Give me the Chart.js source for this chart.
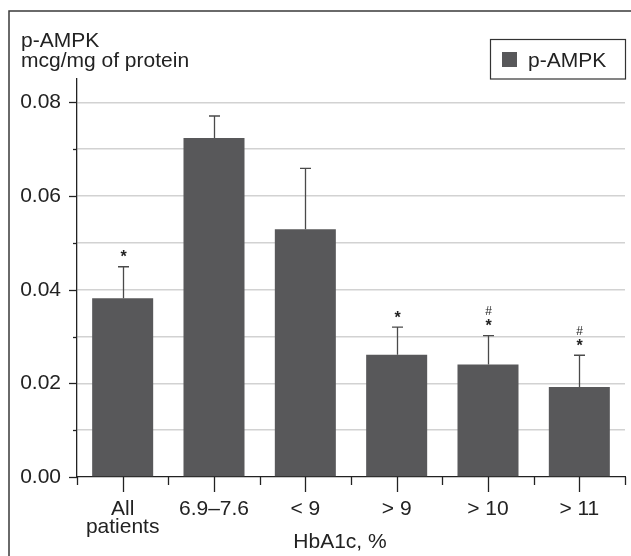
<!DOCTYPE html>
<html>
<head>
<meta charset="utf-8">
<title>p-AMPK by HbA1c</title>
<script src="https://cdn.jsdelivr.net/npm/chart.js@4.4.1/dist/chart.umd.min.js"></script>
<style>
  html, body { margin: 0; padding: 0; background: #fff; }
  #wrap { width: 631px; height: 556px; }
</style>
</head>
<body>
<div id="wrap"><canvas id="chart" width="631" height="556"></canvas></div>
<script>
// ---- data ----
const categories = [["All", "patients"], "6.9–7.6", "< 9", "> 9", "> 10", "> 11"];
const pAmpk = [0.0382, 0.0724, 0.0529, 0.0261, 0.0240, 0.0192];
const pAmpkSd = [0.0067, 0.0047, 0.0130, 0.0059, 0.0062, 0.0068];
const starMarks = [true, false, false, true, true, true];
const hashMarks = [false, false, false, false, true, true];
const yTicks = [0, 0.02, 0.04, 0.06, 0.08];

const FONT = "'Liberation Sans', Arial, Helvetica, sans-serif";
const TEXT = "#222";
const BAR = "#58585a";

function el(id) {
  return document.getElementById(id);
}

// frame, titles, legend, tick marks, error bars, significance marks
const extras = {
  id: "extras",
  afterDraw(chart) {
    const ctx = chart.ctx;
    const x = chart.scales.x;
    const y = chart.scales.y;
    const area = chart.chartArea;
    const ds = chart.data.datasets[0];

    ctx.save();

    // outer frame (top + left only visible)
    ctx.strokeStyle = "#3a3a3a";
    ctx.lineWidth = 1.5;
    ctx.beginPath();
    ctx.moveTo(9, 556);
    ctx.lineTo(9, 11);
    ctx.lineTo(631, 11);
    ctx.stroke();

    // y title, two lines, top left
    ctx.fillStyle = TEXT;
    ctx.font = "21px " + FONT;
    ctx.textAlign = "left";
    ctx.textBaseline = "alphabetic";
    ctx.fillText("p-AMPK", 21, 47);
    ctx.fillText("mcg/mg of protein", 21, 67);

    // x title
    ctx.textAlign = "center";
    ctx.fillText("HbA1c, %", 340, 548);

    // legend box
    ctx.strokeStyle = "#333";
    ctx.lineWidth = 1.2;
    ctx.strokeRect(490.5, 39.5, 135, 39.5);
    ctx.fillStyle = ds.backgroundColor;
    ctx.fillRect(502, 52, 15, 15);
    ctx.fillStyle = TEXT;
    ctx.textAlign = "left";
    ctx.fillText(ds.label, 528, 67);

    // y tick marks (major labelled, minor in between)
    ctx.strokeStyle = "#222";
    ctx.lineWidth = 1.3;
    for (let v = 0; v <= 0.08 + 1e-9; v += 0.01) {
      const py = Math.round(y.getPixelForValue(v)) + 0.5;
      const major = yTicks.some((t) => Math.abs(t - v) < 1e-9);
      ctx.beginPath();
      ctx.moveTo(area.left - (major ? 8 : 4), py);
      ctx.lineTo(area.left, py);
      ctx.stroke();
    }

    // x tick marks: short at category edges, long at centres
    const n = categories.length;
    const step = (area.right - area.left) / n;
    for (let i = 0; i <= n; i++) {
      const px = Math.round(area.left + i * step) + 0.5;
      ctx.beginPath();
      ctx.moveTo(px, area.bottom);
      ctx.lineTo(px, area.bottom + 8);
      ctx.stroke();
    }
    for (let i = 0; i < n; i++) {
      const px = Math.round(x.getPixelForValue(i)) + 0.5;
      ctx.beginPath();
      ctx.moveTo(px, area.bottom);
      ctx.lineTo(px, area.bottom + 15);
      ctx.stroke();
    }

    // error bars (upper only) and marks
    ctx.strokeStyle = "#4a4a4a";
    ctx.lineWidth = 1.3;
    pAmpk.forEach((val, i) => {
      const px = Math.round(x.getPixelForValue(i)) + 0.5;
      const yBar = y.getPixelForValue(val);
      const yTop = y.getPixelForValue(val + pAmpkSd[i]);
      ctx.beginPath();
      ctx.moveTo(px, yBar);
      ctx.lineTo(px, yTop);
      ctx.moveTo(px - 5.5, yTop);
      ctx.lineTo(px + 5.5, yTop);
      ctx.stroke();

      ctx.fillStyle = TEXT;
      ctx.textAlign = "center";
      ctx.textBaseline = "middle";
      if (starMarks[i]) {
        ctx.font = "bold 16px " + FONT;
        ctx.fillText("*", px, yTop - 9);
      }
      if (hashMarks[i]) {
        ctx.font = "12px " + FONT;
        ctx.fillText("#", px, yTop - 24);
      }
    });

    ctx.restore();
  },
};

new Chart(el("chart"), {
  type: "bar",
  data: {
    labels: categories,
    datasets: [
      {
        label: "p-AMPK",
        data: pAmpk,
        backgroundColor: BAR,
        borderWidth: 0,
        categoryPercentage: 1,
        barPercentage: 0.668,
      },
    ],
  },
  options: {
    responsive: false,
    animation: false,
    layout: { padding: { left: 0, right: 6, top: 79, bottom: 0 } },
    plugins: {
      legend: { display: false },
      tooltip: { enabled: false },
    },
    scales: {
      x: {
        grid: { display: false, drawTicks: false },
        border: { display: true, color: "#222", width: 1.3 },
        ticks: {
          color: TEXT,
          font: { family: FONT, size: 21, lineHeight: 0.86 },
          padding: 23,
          maxRotation: 0,
          autoSkip: false,
        },
        afterFit: (s) => {
          s.height = 79;
        },
      },
      y: {
        min: 0,
        max: 0.085,
        grid: {
          drawTicks: false,
          lineWidth: 1.5,
          color: (c) => {
            const v = c.tick ? c.tick.value : 0;
            if (v < 0.001 || v > 0.0805) return "rgba(0,0,0,0)";
            return "#d2d2d2";
          },
        },
        border: { display: true, color: "#222", width: 1.3 },
        ticks: {
          stepSize: 0.01,
          includeBounds: false,
          autoSkip: false,
          color: TEXT,
          font: { family: FONT, size: 21 },
          padding: 16,
          callback: (v) => {
            const hit = yTicks.some((t) => Math.abs(t - v) < 1e-9);
            return hit ? v.toFixed(2) : "";
          },
        },
        afterFit: (s) => {
          s.width = 77;
        },
      },
    },
  },
  plugins: [extras],
});
</script>
</body>
</html>
